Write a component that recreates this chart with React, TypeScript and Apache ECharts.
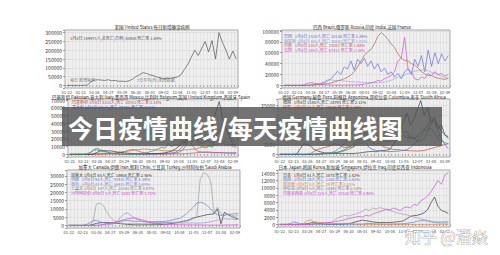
import React, { useEffect, useRef } from "react";
import * as echarts from "echarts";

const dates = ["2020-01-22","2020-01-30","2020-02-07","2020-02-15","2020-02-23","2020-03-02","2020-03-10","2020-03-18","2020-03-26","2020-04-03","2020-04-11","2020-04-19","2020-04-27","2020-05-05","2020-05-13","2020-05-21","2020-05-29","2020-06-06","2020-06-14","2020-06-22","2020-06-30","2020-07-08","2020-07-16","2020-07-24","2020-08-01","2020-08-09","2020-08-17","2020-08-25","2020-09-02","2020-09-10","2020-09-18","2020-09-26","2020-10-04","2020-10-12","2020-10-20","2020-10-28","2020-11-05","2020-11-13","2020-11-21","2020-11-29","2020-12-07","2020-12-15","2020-12-23","2020-12-31","2021-01-08","2021-01-16","2021-01-24","2021-02-01","2021-02-09","2021-02-17"];

// 美国
const usCases = [0,0,0,0,0,100,3000,20000,30000,32000,30000,28000,32000,26000,28000,23000,24000,22000,26000,35000,50000,60000,72000,68000,60000,56000,48000,44000,38000,42000,40000,45000,48000,60000,90000,120000,160000,200000,170000,210000,250000,190000,255000,150000,300000,245000,200000,150000,195000,150000];

// 巴西 / 俄罗斯 / 印度 / 法国
const brazil = [0,0,0,0,0,0,0,100,300,1200,2000,3000,5000,8000,12000,18000,26000,20000,34000,30000,45000,28000,48000,40000,50000,35000,45000,30000,40000,25000,32000,20000,25000,15000,22000,12000,25000,30000,20000,48000,35000,55000,25000,65000,35000,60000,40000,58000,45000,55000];
const russia = [0,0,0,0,0,0,0,0,200,500,1500,4000,6000,10000,10500,9000,9000,8700,8000,7500,6700,6500,6000,5800,5200,5000,4900,4800,5000,5500,6000,7500,9500,12000,15000,17000,19000,22000,24000,26000,27000,28000,28500,27000,24000,22000,19000,17000,15000,13000];
const india = [0,0,0,0,0,0,0,100,600,1000,1500,1500,2500,3500,4000,6000,8000,10000,12000,15000,19000,25000,34000,45000,55000,62000,66000,76000,90000,97000,92000,85000,76000,70000,58000,50000,46000,45000,40000,37000,32000,25000,21000,18000,18000,15000,13000,12000,11000,13000];
const france = [0,0,0,0,0,0,1000,3500,5000,4000,3000,2000,1200,800,600,500,500,400,500,600,700,800,1000,1500,2000,3500,4500,6000,9000,8000,12000,15000,18000,25000,45000,50000,88000,30000,25000,12000,10000,15000,13000,22000,18000,25000,20000,22000,17000,20000];

// 巴基斯坦 / 意大利 / 墨西哥 / 比利时 / 英国 / 西班牙
const pakistan = [0,0,0,0,0,0,0,50,150,250,400,600,800,1200,1800,2500,3500,4800,6000,6200,4500,2800,2000,1200,800,700,600,500,500,600,650,700,700,750,900,1200,1500,2000,2500,3000,3200,3000,2600,2300,2200,1900,1700,1400,1300,1200];
const italy = [0,0,0,0,0,500,2500,5000,6000,4500,3500,3000,2000,1300,900,600,400,300,300,250,200,200,250,300,350,500,900,1200,1400,1500,1600,1800,2500,5000,10000,20000,32000,37000,30000,22000,19000,17000,14000,20000,18000,15000,12000,13000,12500,13000];
const mexico = [0,0,0,0,0,0,0,0,0,150,300,600,1200,1800,2500,3000,3500,4000,4800,5500,6000,6500,7000,6500,6000,6000,5500,5000,4500,4800,4200,5000,4800,5500,6000,6000,6500,7000,8000,9500,10000,11000,12000,12000,14000,18000,16000,12000,10000,9000];
const belgium = [0,0,0,0,0,0,0,300,1000,1400,1200,900,600,400,300,200,150,100,100,100,150,200,300,500,600,500,400,450,600,900,1500,2500,5000,9000,16000,20000,12000,6000,3500,2500,2300,2200,2000,2000,2200,2300,2000,2100,2200,2300];
const uk = [0,0,0,0,0,0,0,600,2500,4500,5000,4500,4500,3800,3000,2500,2000,1500,1200,1000,900,700,700,800,800,1000,1100,1300,1800,3000,4500,6500,10000,14000,18000,24000,22000,25000,16000,14000,17000,22000,36000,55000,68000,45000,33000,22000,13000,11000];
const spain = [0,0,0,0,0,0,1500,6000,8000,6000,4500,3000,1500,800,400,300,250,300,350,350,400,900,1500,2500,4000,5000,7000,9000,8000,14000,10000,13000,11000,18000,14000,25000,16000,20000,12000,10000,8000,11000,9000,24000,30000,40000,32000,26000,18000,15000];

// 德国 / 秘鲁 / 阿根廷 / 哥伦比亚 / 南非
const germany = [0,0,0,0,0,200,3000,5500,5000,4200,2500,1800,1200,800,700,500,400,450,350,500,450,400,550,700,900,1200,1400,1500,1300,1800,1900,2200,2500,5000,7500,12000,17000,21000,15000,18000,23000,27500,20000,24000,16000,19000,13000,15000,10000,9000];
const peru = [0,0,0,0,0,0,0,0,100,500,1500,2500,3000,3500,4000,4500,5500,5000,4000,3500,4000,3500,4500,6500,8000,7500,9000,6000,5000,6000,4000,3500,3000,2500,2500,2300,2000,2000,1800,1800,1700,1800,2000,2500,3000,3500,4000,4500,5000,5500];
const argentina = [0,0,0,0,0,0,0,0,0,0,100,150,200,250,350,500,700,900,1300,2000,2500,3500,4500,6000,5500,7500,7000,9000,8500,11000,10000,13000,11500,15000,13000,16000,11000,12000,8000,9000,6500,7000,8000,12000,13500,11000,8000,7000,6000,5500];
const colombia = [0,0,0,0,0,0,0,0,0,0,50,150,250,400,500,700,900,1200,1800,2500,3500,4500,6500,8000,9500,11000,10500,9000,8000,7500,7000,6500,6500,7500,8000,9000,9500,8500,9000,8000,9500,11000,13000,12000,16000,17000,15000,12000,10000,8000];
const southAfrica = [0,0,0,0,0,0,0,0,0,0,100,200,250,400,600,900,1500,2800,4000,6000,8000,11000,13000,12000,8500,6000,3500,2500,2000,1800,1600,1500,1400,1500,1600,1800,2000,2500,3500,5000,7000,9000,12000,15000,19000,17000,12000,8000,5000,3000];

// 加拿大 / 伊朗 / 智利 / 土耳其 / 沙特阿拉伯
const canada = [0,0,0,0,0,0,0,500,1200,1500,1800,1700,1600,1400,1200,1000,800,600,450,350,300,300,350,400,400,400,450,500,700,900,1200,1500,2000,2500,2800,3500,4500,5000,5500,6000,6500,6800,7000,10000,1000,8000,6500,5500,4500,4000];
const iran = [0,0,0,0,0,500,1500,2800,3000,2200,1500,1300,1200,1500,2000,2500,2800,2900,2700,2500,2500,2600,2500,2300,2200,2300,2400,2300,2500,2800,3300,3800,4200,5500,7000,9000,11000,13500,14000,13500,12000,10000,7500,6500,6000,6200,6500,6800,7000,7200];
const chile = [0,0,0,0,0,0,0,0,0,200,400,450,500,1000,2500,5000,7000,7500,6000,4500,3500,2500,2000,1900,1800,1700,1700,1800,1800,1700,1600,1500,1400,1400,1500,1400,1500,1300,1400,1500,1800,2200,2600,3200,3800,4000,3800,3900,3500,3600];
const turkey = [0,0,0,0,0,0,0,2000,13000,13500,12000,8000,5000,3000,2000,1500,1000,1000,1300,1200,1100,1000,1000,1000,1100,1200,1300,1400,1600,1700,1800,1900,2000,2000,2500,3000,4000,5000,28000,32000,31000,27000,8000,11000,7000,6000,7000,6500,5500,6000];
const saudi = [0,0,0,0,0,0,0,0,0,200,500,1000,1400,1800,2300,2800,3500,4000,4300,4500,4000,3500,2800,2000,1500,1200,1100,900,700,600,500,450,400,380,350,320,300,280,250,230,200,180,170,160,170,200,250,300,320,330];

// 日本 / 韩国 / 新加坡 / 伊拉克 / 印度尼西亚
const japan = [0,0,0,0,0,0,0,50,200,400,500,300,200,100,50,40,40,50,60,100,200,400,700,900,1200,1000,900,700,600,500,550,500,550,600,700,800,1000,1600,2200,2400,2500,2800,3200,4000,6000,7500,5000,3800,3500,3000];
const korea = [0,0,0,200,700,500,150,100,50,20,10,10,10,20,30,40,40,50,45,50,50,45,40,40,50,200,300,200,150,100,100,80,90,100,120,150,200,300,450,600,900,1000,1050,900,700,500,450,400,450,400];
const singapore = [0,0,0,0,0,0,0,300,1000,1200,800,600,500,400,500,350,250,200,250,300,250,200,100,80,50,40,30,25,20,20,15,15,10,10,10,10,10,10,10,10,10,10,15,20,20,25,30,30,25,20];
const iraq = [0,0,0,0,0,0,0,0,0,50,80,100,100,150,300,600,1200,1800,2200,2500,2300,2600,2800,3200,3500,4200,3800,4500,4200,4600,4400,4000,3800,3500,3200,3000,2800,2600,2300,2000,1800,1500,1300,1100,900,800,700,700,750,800];
const indonesia = [0,0,0,0,0,0,0,0,0,0,200,300,350,400,500,600,700,900,1100,1300,1600,1800,2000,2200,2000,2500,2300,2800,3200,3500,3800,4200,4000,4500,4200,3800,4500,4800,4500,5500,5200,6500,7000,7800,9000,10500,12000,11000,13500,14200];

const titles = [
  "美国 United States 每日新增确诊病例",
  "巴西 Brazil,俄罗斯 Russia,印度 India,法国 France",
  "巴基斯坦 Pakistan,意大利 Italy,墨西哥 Mexico,比利时 Belgium,英国 United Kingdom,西班牙 Spain",
  "德国 Germany,秘鲁 Peru,阿根廷 Argentina,哥伦比亚 Colombia,南非 South Africa",
  "加拿大 Canada,伊朗 Iran,智利 Chile,土耳其 Turkey,沙特阿拉伯 Saudi Arabia",
  "日本 Japan,韩国 Korea,新加坡 Singapore,伊拉克 Iraq,印度尼西亚 Indonesia",
];

const notes1 = ["1月8日 149971人,总死亡(万例) 40988 死亡率 1.69%"];
const notes2 = [
  "巴西   1月8日 1524人,死亡 20146 死亡率 2.49%",
  "俄罗斯 1月8日 465人,死亡 58002 死亡率 1.82%",
  "印度   1月8日 234人,死亡 15057 死亡率 1.44%",
  "法国   1月8日 149人,死亡 67431 死亡率 2.38%",
];
// only the rows that show above the banner
const notes3 = [
  "巴基斯坦 1月8日 4331人,死亡 10553 死亡率 2.14%",
  "意大利 1月8日 483人,死亡 77291 死亡率 3.51%",
];
const notes4 = [
  "德国   1月8日 1188人,死亡 38795 死亡率 2.11%",
  "秘鲁   1月8日 62人,死亡 38049 死亡率 3.70%",
];
const notes5 = [
  "加拿大 1月8日 65人,死亡 16906 死亡率 2.56%",
  "伊朗   1月8日 92人,死亡 55933 死亡率 4.39%",
  "智利   1月8日 47人,死亡 16913 死亡率 2.65%",
  "土耳其 1月8日 167人,死亡 22264 死亡率 0.97%",
  "沙特阿拉伯 1月8日 5人,死亡 6282 死亡率 1.72%",
];
const notes6 = [
  "日本   1月8日 61人,死亡 3878 死亡率 1.42%",
  "韩国   1月8日 19人,死亡 1100 死亡率 1.63%",
  "新加坡 1月8日 0人,死亡 29 死亡率 0.05%",
  "伊拉克 1月8日 5人,死亡 12843 死亡率 2.14%",
  "印度尼西亚 1月8日 224人,死亡 23520 死亡率 2.96%",
];
const extraNotes = ["每日 新增病例", "7日平均(约) 新增数据"];
const bannerText = "今日疫情曲线/每天疫情曲线图";
const watermarkText = "知乎 @潘焱";

const FONT = '"Noto Sans CJK SC", "Noto Sans", sans-serif';
const DARK = "#3a3a3a";

type S = { name: string; data: number[]; color: string };
type Panel = {
  grid: { left: number; top: number; width: number; height: number };
  min: number; max: number; step: number; hidden: number[];
  title: string; titleX: number; titleY: number;
  notes: string[]; noteColors: string[]; noteX: number; noteY: number; noteGap: number;
  series: S[];
};

const panels: Panel[] = [
  {
    grid: { left: 65, top: 30, width: 173, height: 58 }, min: -15000, max: 315000, step: 50000, hidden: [],
    title: titles[0], titleX: 152, titleY: 26.5,
    notes: notes1, noteColors: ["#555"], noteX: 70, noteY: 37.5, noteGap: 4.5,
    series: [{ name: "美国", data: usCases, color: "#555555" }],
  },
  {
    grid: { left: 282, top: 30, width: 168, height: 58 }, min: -4850, max: 101850, step: 20000, hidden: [],
    title: titles[1], titleX: 362, titleY: 26.5,
    notes: notes2, noteColors: ["#6f6fd8", "#8f9ad6", "#b8604f", "#d24fd2"], noteX: 284, noteY: 36, noteGap: 4.6,
    series: [
      { name: "巴西", data: brazil, color: "#6f6fd8" },
      { name: "俄罗斯", data: russia, color: "#9fa8dc" },
      { name: "印度", data: india, color: "#b8604f" },
      { name: "法国", data: france, color: "#d24fd2" },
    ],
  },
  {
    grid: { left: 68, top: 99, width: 170, height: 58 }, min: -3400, max: 71400, step: 10000, hidden: [],
    title: titles[2], titleX: 151, titleY: 96.8,
    notes: notes3, noteColors: ["#c9473e", "#4f68c8"], noteX: 72, noteY: 102.3, noteGap: 4.3,
    series: [
      { name: "巴基斯坦", data: pakistan, color: "#c9473e" },
      { name: "意大利", data: italy, color: "#4f68c8" },
      { name: "墨西哥", data: mexico, color: "#c07a3a" },
      { name: "比利时", data: belgium, color: "#8c5fb0" },
      { name: "英国", data: uk, color: DARK },
      { name: "西班牙", data: spain, color: "#3f9a4a" },
    ],
  },
  {
    // labels 10000-20000 sit under the banner and are not visible
    grid: { left: 278, top: 99, width: 172, height: 58 }, min: -1350, max: 28350, step: 5000, hidden: [10000, 15000, 20000],
    title: titles[3], titleX: 364, titleY: 96.8,
    notes: notes4, noteColors: [DARK, "#c24a3e"], noteX: 283, noteY: 102.3, noteGap: 4.3,
    series: [
      { name: "德国", data: germany, color: DARK },
      { name: "秘鲁", data: peru, color: "#c24a3e" },
      { name: "阿根廷", data: argentina, color: "#3f8f6a" },
      { name: "哥伦比亚", data: colombia, color: "#2f6f3f" },
      { name: "南非", data: southAfrica, color: "#4d6ec8" },
    ],
  },
  {
    grid: { left: 67, top: 170, width: 173, height: 58 }, min: -1600, max: 33600, step: 5000, hidden: [],
    title: titles[4], titleX: 155, titleY: 166.8,
    notes: notes5, noteColors: [DARK, "#5d7fd6", "#8f84dc", "#8a8a8a", "#d44cd4"], noteX: 71, noteY: 175, noteGap: 4.4,
    series: [
      { name: "加拿大", data: canada, color: DARK },
      { name: "伊朗", data: iran, color: "#5d7fd6" },
      { name: "智利", data: chile, color: "#9a8fe0" },
      { name: "土耳其", data: turkey, color: "#a0a0a0" },
      { name: "沙特阿拉伯", data: saudi, color: "#d44cd4" },
    ],
  },
  {
    grid: { left: 278, top: 170, width: 172, height: 57 }, min: -710, max: 14910, step: 2000, hidden: [],
    title: titles[5], titleX: 355, titleY: 166.8,
    notes: notes6, noteColors: [DARK, "#5d7fd6", "#e0874a", "#8a8a8a", "#d04ce0"], noteX: 283, noteY: 175, noteGap: 4.4,
    series: [
      { name: "日本", data: japan, color: DARK },
      { name: "韩国", data: korea, color: "#5d7fd6" },
      { name: "新加坡", data: singapore, color: "#e0874a" },
      { name: "伊拉克", data: iraq, color: "#a0a0a0" },
      { name: "印度尼西亚", data: indonesia, color: "#d04ce0" },
    ],
  },
];

export default function App() {
  const ref = useRef<HTMLDivElement>(null);

  useEffect(() => {
    if (!ref.current) return;
    const chart = echarts.init(ref.current, undefined, { renderer: "svg" });

    const grids = panels.map((p) => ({
      ...p.grid,
      show: true,
      backgroundColor: "#efefef",
      borderColor: "#8c8c8c",
      borderWidth: 0.8,
    }));

    const xAxes = panels.map((p, i) => ({
      type: "category",
      gridIndex: i,
      data: dates,
      boundaryGap: true,
      axisLine: { show: false },
      axisTick: { show: true, interval: 0, length: 1.5, lineStyle: { color: "#666", width: 0.5 } },
      axisLabel: {
        fontSize: 4, color: "#444", interval: 3, margin: 2, fontFamily: FONT,
        formatter: (v: string) => v.slice(5),
      },
      splitLine: { show: true, interval: 0, lineStyle: { color: "#d9d9d9", width: 0.5 } },
    }));

    const yAxes = panels.map((p, i) => ({
      type: "value",
      gridIndex: i,
      min: p.min,
      max: p.max,
      splitNumber: 7,
      axisLine: { show: false },
      axisTick: { show: true, length: 2, lineStyle: { color: "#444", width: 0.5 } },
      axisLabel: {
        fontSize: 5, color: "#333", margin: 3, fontFamily: FONT,
        formatter: (v: number) =>
          v >= 0 && v % p.step === 0 && p.hidden.indexOf(v) < 0 ? String(v) : "",
      },
      splitLine: { show: true, lineStyle: { color: "#d2d2d2", width: 0.5 } },
    }));

    const series = panels.flatMap((p, i) =>
      p.series.map((s) => ({
        type: "line",
        name: s.name,
        xAxisIndex: i,
        yAxisIndex: i,
        data: s.data,
        symbol: "none",
        silent: true,
        z: 3,
        lineStyle: { color: s.color, width: 0.7 },
        itemStyle: { color: s.color },
      }))
    );

    const graphics: any[] = [];
    panels.forEach((p) => {
      graphics.push({
        type: "text", x: p.titleX, y: p.titleY, z: 50, silent: true,
        style: { text: p.title, fill: "#222", fontSize: 4.5, fontFamily: FONT, align: "center", verticalAlign: "middle" },
      });
      p.notes.forEach((t, k) => {
        graphics.push({
          type: "text", x: p.noteX, y: p.noteY + k * p.noteGap, z: 50, silent: true,
          style: { text: t, fill: p.noteColors[k], fontSize: 4, fontFamily: FONT, verticalAlign: "middle" },
        });
      });
    });
    graphics.push({
      type: "text", x: 70, y: 80, z: 50, silent: true,
      style: { text: extraNotes[0], fill: "#777", fontSize: 4, fontFamily: FONT, verticalAlign: "middle" },
    });
    graphics.push({
      type: "text", x: 137, y: 80, z: 50, silent: true,
      style: { text: extraNotes[1], fill: "#777", fontSize: 4, fontFamily: FONT, verticalAlign: "middle" },
    });
    // banner
    graphics.push({
      type: "rect", z: 100, silent: true,
      shape: { x: 62, y: 107, width: 380, height: 39 },
      style: { fill: "rgba(80,80,80,0.8)" },
    });
    graphics.push({
      type: "text", x: 68, y: 126.5, z: 101, silent: true,
      style: { text: bannerText, fill: "#ffffff", fontSize: 25, fontWeight: "bold", fontFamily: FONT, verticalAlign: "middle" },
    });
    // watermark
    graphics.push({
      type: "text", x: 405, y: 236, z: 102, silent: true,
      style: { text: watermarkText, fill: "rgba(255,255,255,0.9)", stroke: "#9a9a9a", lineWidth: 0.7, fontSize: 16, fontFamily: FONT, verticalAlign: "middle" },
    });

    chart.setOption({
      animation: false,
      backgroundColor: "#ffffff",
      grid: grids,
      xAxis: xAxes,
      yAxis: yAxes,
      series,
      graphic: { elements: graphics },
    });

    return () => chart.dispose();
  }, []);

  return (
    <div
      ref={ref}
      style={{ position: "absolute", left: 0, top: 0, width: 500, height: 255, background: "#fff" }}
    />
  );
}
